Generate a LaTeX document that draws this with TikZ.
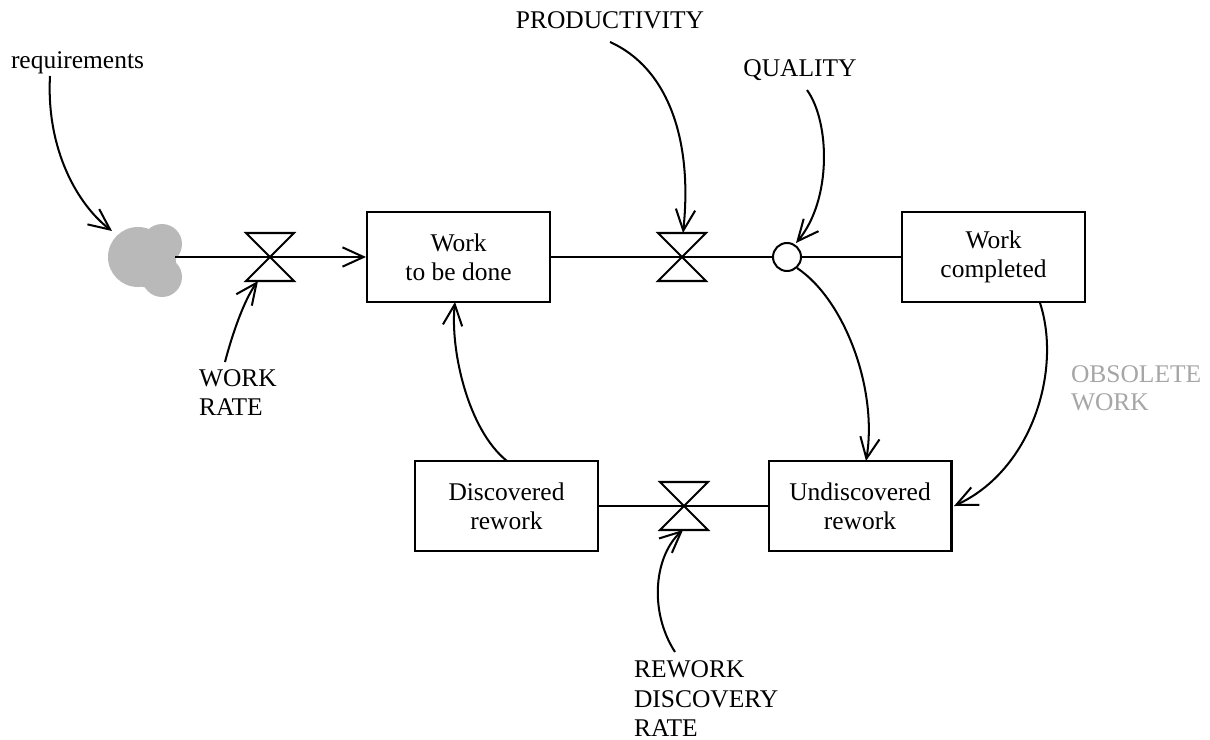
\documentclass[tikz,border=0pt]{standalone}
\usepackage{fontspec}
\setmainfont{Liberation Serif}
\usetikzlibrary{arrows.meta}
\newcommand\dgfont{\fontsize{14.5}{16.4}\selectfont}
\begin{document}
\begin{tikzpicture}[x=0.02cm,y=-0.02cm,line width=1.15pt,
  box/.style={draw,fill=white,minimum width=3.66cm,minimum height=1.81cm,align=center,font=\dgfont,inner sep=0pt},
  lbl/.style={font=\dgfont,inner sep=0pt},
  arr/.style={-{Straight Barb[length=12pt,width=11pt]}},
  valveshape/.style={draw,fill=white,line join=miter}]
\useasboundingbox (0,0) rectangle (1210,740);

% stocks
\node[box] (wtbd) at (458.5,257) {Work\\to be done};
\node[box] (wc) at (993.5,257) {Work\\completed};
\node[box] (dr) at (506.5,506) {Discovered\\rework};
\node[box] (ur) at (860,506) {Undiscovered\\rework};

% labels
\node[lbl,anchor=base west] (req) at (10,69) {requirements};
\node[lbl,anchor=base] (prod) at (610,29) {PRODUCTIVITY};
\node[lbl,anchor=base] (qual) at (800,77) {QUALITY};
\node[lbl,anchor=base west] (wr1) at (198,386) {WORK};
\node[lbl,anchor=base west] (wr2) at (198,415) {RATE};
\node[lbl,anchor=base west,text=gray!70] (ow1) at (1070,382) {OBSOLETE};
\node[lbl,anchor=base west,text=gray!70] (ow2) at (1070,410) {WORK};
\node[lbl,anchor=base west] (rd1) at (633,677) {REWORK};
\node[lbl,anchor=base west] (rd2) at (633,707) {DISCOVERY};
\node[lbl,anchor=base west] (rd3) at (633,736) {RATE};

% cloud
\fill[gray!55] (138,257) circle[radius=30] (162,244) circle[radius=20]
  (162,277) circle[radius=20] (150,262) circle[radius=26];
\coordinate (cloud) at (175,257);

% valve centres
\coordinate (v1) at (270,257);
\coordinate (v2) at (682,257);
\coordinate (v3) at (684,506);

% flows
\draw[arr] (cloud) -- (wtbd.west);
\draw (wtbd.east) -- (v2) -- (787,257);
\draw (dr.east) -- (ur.west);
\node[draw,fill=white,circle,minimum size=0.56cm,inner sep=0pt] (q) at (787,257) {};
\draw (q.east) -- (wc.west);

% valves
\foreach \v in {v1,v2,v3}{
  \draw[valveshape] ([shift={(-24,-24)}]\v) -- ([shift={(24,-24)}]\v)
     -- ([shift={(-24,24)}]\v) -- ([shift={(24,24)}]\v) -- cycle;
}

% connector end points
\coordinate (reqs) at (50,76);
\coordinate (cloudin) at (112,231);
\coordinate (wrs) at (225,362);
\coordinate (v1b) at (258,281);
\coordinate (prods) at (610,42);
\coordinate (v2t) at (683,233);
\coordinate (quals) at (807,90);
\coordinate (qt) at (796,243);
\coordinate (qb) at (797,268);
\coordinate (wcb) at (1040,303);
\coordinate (urr) at (954,506);
\coordinate (urt) at (866,461);
\coordinate (drt) at (507,461);
\coordinate (wtbdb) at (455,302);
\coordinate (rds) at (675,652);
\coordinate (v3b) at (683,530);

% information links
\draw[arr] (reqs) .. controls (46,150) and (78,205) .. (cloudin);
\draw[arr] (wrs) .. controls (232,335) and (244,300) .. (v1b);
\draw[arr] (prods) .. controls (668,68) and (693,140) .. (v2t);
\draw[arr] (quals) .. controls (830,122) and (832,200) .. (qt);
\draw[arr] (qb) .. controls (845,300) and (878,390) .. (urt);
\draw[arr] (wcb) .. controls (1062,370) and (1032,470) .. (urr);
\draw[arr] (drt) .. controls (468,430) and (450,350) .. (wtbdb);
\draw[arr] (rds) .. controls (648,610) and (655,555) .. (v3b);
\end{tikzpicture}
\end{document}
